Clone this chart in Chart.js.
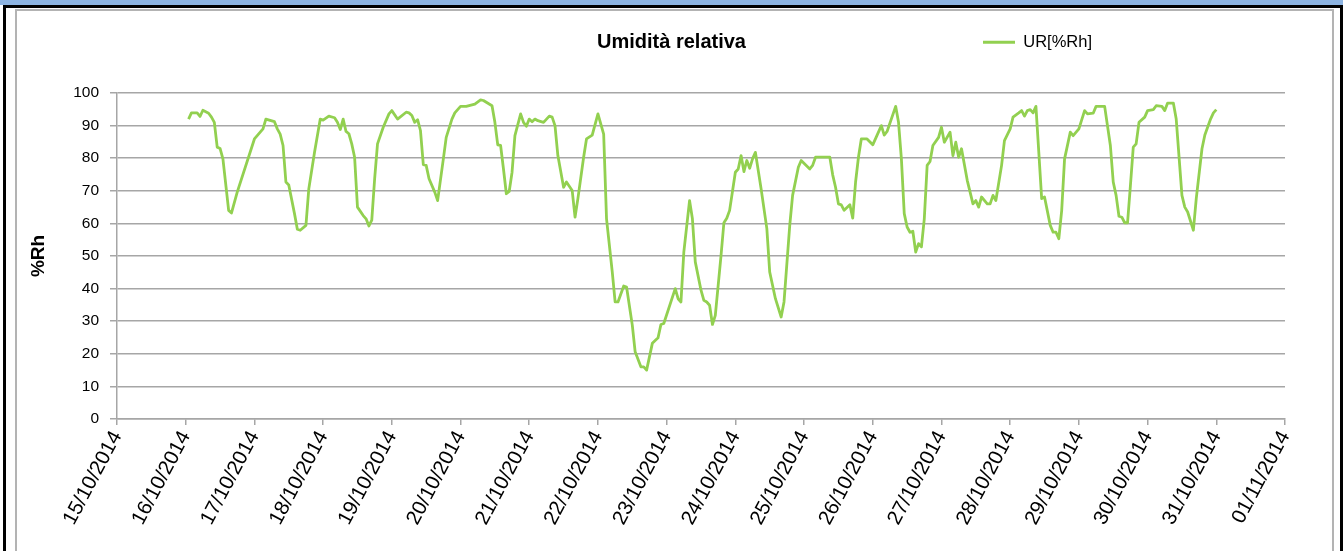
<!DOCTYPE html>
<html>
<head>
<meta charset="utf-8">
<title>Umidità relativa</title>
<script src="https://cdn.jsdelivr.net/npm/chart.js@4.4.1/dist/chart.umd.min.js"></script>
<style>
  html, body { margin: 0; padding: 0; background: #fff; overflow: hidden; }
  #band { position: absolute; left: 0; top: 0; width: 1343px; height: 5px; background: #8db4e2; }
  #frame { position: absolute; left: 3px; top: 5px; width: 1334px; height: 600px; border: 3px solid #000; border-bottom: none; }
  #inner { position: absolute; left: 15px; top: 9px; width: 1315px; height: 600px; border: 2px solid #b3b3b3; border-bottom: none; }
  #chart { position: absolute; left: 0; top: 0; }
</style>
</head>
<body>
<div id="band"></div>
<div id="frame"></div>
<div id="inner"></div>
<canvas id="chart" width="1343" height="551"></canvas>
<script>
// day labels on the x axis, one per 24 h starting 15/10/2014 00:00
const dayLabels = [
  '15/10/2014', '16/10/2014', '17/10/2014', '18/10/2014', '19/10/2014', '20/10/2014',
  '21/10/2014', '22/10/2014', '23/10/2014', '24/10/2014', '25/10/2014', '26/10/2014',
  '27/10/2014', '28/10/2014', '29/10/2014', '30/10/2014', '31/10/2014', '01/11/2014'
];

// readings: hours after 16/10/2014 00:00
const hours = [
  1, 2, 4, 5, 6, 8, 9, 10, 11, 12, 13, 15, 16, 18,
  24, 27, 28, 31, 32, 33, 34, 35, 36, 38, 39, 40, 42, 43, 45, 47,
  48, 50, 52, 53, 54, 55, 56, 57, 58, 59, 60, 62, 63, 64, 65, 66, 67, 69, 71,
  72, 74, 77, 78, 79, 80, 81, 82, 83, 84, 85, 87, 88, 90, 91, 93, 94,
  96, 98, 101, 103, 104, 107, 108, 109, 110, 111, 112, 113, 114, 115, 117, 118, 119,
  120, 121, 122, 123, 125, 127, 128, 129, 130, 132, 133, 135, 136, 137, 139, 140, 142,
  144, 146, 147, 149, 150, 151, 153, 154, 156, 157, 159, 160, 161, 163, 165, 166, 167,
  171, 172, 173, 174, 176, 177, 178, 180, 181, 182, 183, 184, 185, 187, 188, 189, 190,
  192, 193, 194, 195, 196, 197, 198, 199, 201, 203, 204, 206, 208, 209, 211, 212, 214, 215,
  218, 219, 220, 225, 226, 227, 228, 229, 230, 232, 233, 234, 235, 236, 238,
  240, 243, 244, 245, 248, 249, 250, 251, 252, 253, 254, 255, 256, 257, 258, 259, 260, 261, 263,
  264, 265, 267, 268, 269, 270, 271, 273, 274, 275, 276, 277, 278, 280, 281, 282, 283, 285, 286,
  288, 289, 291, 292, 293, 294, 295, 296, 297, 298, 299, 300, 302, 303, 304, 305, 306, 307, 309, 310,
  312, 314, 315, 317, 318, 321, 323, 324, 325, 326, 327, 328, 329, 330, 331, 332, 333, 335,
  336, 338, 339, 341, 342, 343, 345, 346, 348, 349, 350, 352, 353, 355, 356, 358, 359, 360
];

// relative humidity %Rh at each reading
const rh = [
  92, 93.9, 93.9, 92.8, 94.7, 93.8, 92.6, 91, 83.4, 83, 79.8, 64, 63.2, 69.6,
  85.9, 89, 92, 91.2, 89, 87.4, 83.9, 72.7, 71.8, 63, 58.2, 57.9, 59.4, 70.6, 81.8, 92,
  91.7, 92.9, 92.4, 91, 88.8, 92, 88.2, 87.5, 84.4, 80.3, 65, 62.4, 61.4, 59.2, 61, 73.7, 84.4, 89.5, 93.6,
  94.6, 92, 94.1, 93.9, 93.1, 91, 91.8, 88.5, 78, 77.8, 73.7, 69.6, 67, 79.8, 86.4, 92, 93.9,
  95.9, 95.9, 96.6, 97.9, 97.7, 96.1, 91, 84.1, 83.9, 76.7, 69.1, 69.8, 75.7, 86.9, 93.6, 91, 89.8,
  92, 91.2, 92, 91.5, 91, 92.9, 92.6, 90, 80.8, 71.1, 72.7, 70.1, 61.9, 67.6, 80.3, 85.9, 87.1,
  93.6, 87.4, 61.4, 45.1, 35.9, 35.9, 40.8, 40.5, 28.8, 20.6, 16, 16, 15, 23.2, 24.9, 29, 29.3,
  40, 36.9, 35.9, 51.2, 67, 61.4, 48.2, 39.5, 36.4, 35.9, 34.9, 29, 31.8, 50.2, 60.2, 61.6, 64,
  75.7, 76.7, 80.8, 75.9, 79.3, 76.9, 79.8, 81.8, 70.6, 58.4, 45.1, 36.9, 31.3, 35.9, 59.4, 68.6, 77.2, 79.3,
  76.7, 77.8, 80.3, 80.3, 74.9, 71.1, 66, 65.7, 64, 65.7, 61.6, 72.7, 80.3, 85.9, 85.9,
  84.1, 90, 87.1, 88.2, 95.9, 91, 79.8, 63, 58.9, 57.3, 57.6, 51.2, 53.8, 52.8, 61.4, 77.8, 79, 83.9, 86.4,
  89.5, 84.9, 88, 80.8, 84.9, 80.3, 82.9, 73.2, 69.6, 66, 67, 65, 68.1, 66, 66, 68.6, 67, 77.8, 85.4,
  89, 92.6, 93.9, 94.6, 92.9, 94.6, 94.9, 93.9, 95.9, 81.8, 67.6, 68.1, 59.4, 57.3, 57.3, 55.3, 64, 79.8, 88, 86.9,
  89, 94.6, 93.6, 93.8, 95.9, 95.9, 83.9, 72.7, 68.6, 62.2, 61.9, 60.2, 60.2, 71.6, 83.4, 84.4, 91, 92.6,
  94.6, 94.9, 96.1, 95.9, 94.6, 96.9, 96.9, 92, 68.6, 65, 63.5, 57.9, 67.6, 82.9, 87.1, 92, 93.9, 94.9
];

const FONT = "'Liberation Sans', Arial, sans-serif";
const GRID = '#a6a6a6';
const GREEN = '#92d050';

// x axis counts hours from 15/10/2014 00:00, readings start one day later
const points = hours.map((h, i) => ({ x: h + 24, y: rh[i] }));

// Excel puts the legend on the title line, right of the title
const legendBeside = {
  id: 'legendBeside',
  afterLayout(chart) {
    const lg = chart.legend;
    const dx = 973 - lg.left;
    const dy = 24 - lg.top;
    lg.left += dx; lg.right += dx;
    lg.top += dy; lg.bottom += dy;
  }
};

new Chart(document.getElementById('chart'), {
  type: 'line',
  data: {
    datasets: [{
      label: 'UR[%Rh]',
      data: points,
      borderColor: GREEN,
      backgroundColor: GREEN,
      borderWidth: 2.8,
      borderJoinStyle: 'round',
      pointRadius: 0,
      tension: 0
    }]
  },
  options: {
    responsive: false,
    animation: false,
    layout: { padding: 0 },
    plugins: {
      title: {
        display: true,
        text: 'Umidità relativa',
        color: '#000',
        font: { family: FONT, size: 20, weight: 'bold' },
        padding: { top: 30, bottom: 2.5 }
      },
      legend: {
        align: 'start',
        labels: {
          usePointStyle: true,
          pointStyle: 'line',
          pointStyleWidth: 32,
          color: '#000',
          font: { family: FONT, size: 16.5 }
        }
      },
      tooltip: { enabled: false }
    },
    scales: {
      x: {
        type: 'linear',
        min: 0,
        max: 408,
        afterFit: scale => {
          // room on the right is kept here so the title stays centred on the canvas
          scale.height = 132;
          scale.paddingLeft = 0;
          scale.paddingRight = 58;
        },
        ticks: {
          stepSize: 24,
          autoSkip: false,
          minRotation: 62,
          maxRotation: 62,
          color: '#000',
          padding: 2,
          font: { family: FONT, size: 20.5 },
          callback: v => dayLabels[v / 24]
        },
        grid: { drawOnChartArea: false, tickLength: 6, color: GRID, lineWidth: 1.5 },
        border: { color: GRID, width: 1.5 }
      },
      y: {
        min: 0,
        max: 100,
        afterFit: scale => {
          scale.width = 117;
          scale.paddingTop = 0;
          scale.paddingBottom = 0;
        },
        ticks: {
          stepSize: 10,
          color: '#000',
          padding: 11,
          font: { family: FONT, size: 15.5 }
        },
        grid: { color: GRID, tickLength: 7, lineWidth: 1.5 },
        border: { color: GRID, width: 1.5 },
        title: {
          display: true,
          text: '%Rh',
          color: '#000',
          font: { family: FONT, size: 19, weight: 'bold' },
          padding: { top: 27, bottom: 0 }
        }
      }
    }
  },
  plugins: [legendBeside]
});
</script>
</body>
</html>
